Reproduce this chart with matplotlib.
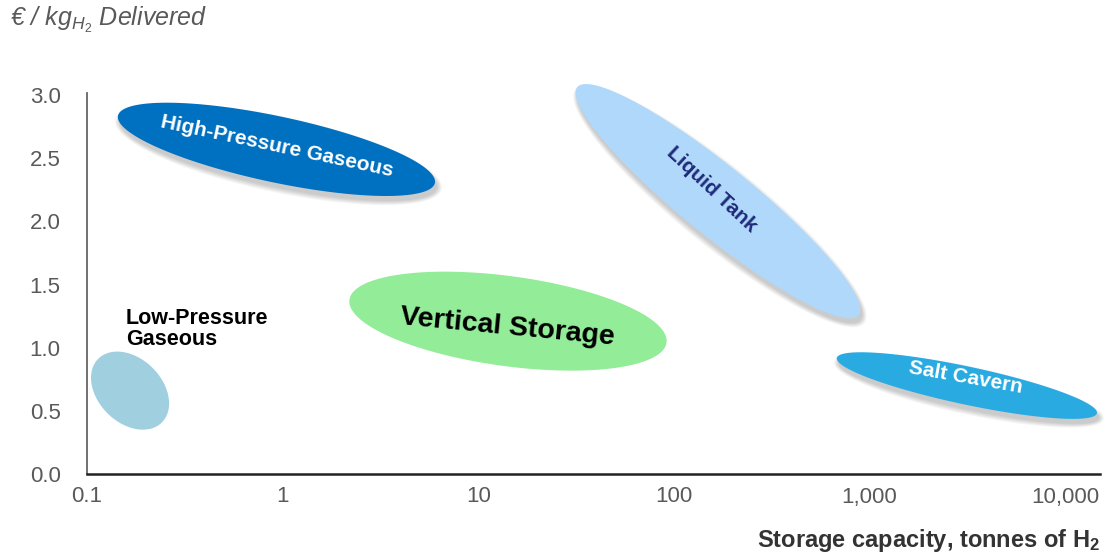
import numpy as np
import matplotlib
matplotlib.use("Agg")
import matplotlib.pyplot as plt

plt.rcParams['font.family'] = ['Liberation Sans', 'DejaVu Sans']
plt.rcParams['mathtext.fontset'] = 'custom'
plt.rcParams['mathtext.rm'] = 'Liberation Sans'
plt.rcParams['mathtext.it'] = 'Liberation Sans:italic'
plt.rcParams['mathtext.bf'] = 'Liberation Sans:bold'

# storage technologies: centre of each cloud (capacity in t H2, cost in EUR/kg)
technologies = ["Low-Pressure Gaseous", "High-Pressure Gaseous", "Vertical Storage",
                "Liquid Tank", "Salt Cavern"]
capacity_t = [0.166, 0.93, 14.2, 168, 3150]
cost_eur_kg = [0.66, 2.57, 1.21, 2.16, 0.70]

x_ticks = [0.1, 1, 10, 100, 1000, 10000]
x_tick_labels = ["0.1", "1", "10", "100", "1,000", "10,000"]
y_ticks = [0.0, 0.5, 1.0, 1.5, 2.0, 2.5, 3.0]

# drawing style per cloud: semi axes (px), tilt (deg, clockwise), colour, shadow
styles = {
    "Low-Pressure Gaseous":  dict(a=45, b=32, tilt=45, color="#a0cfe0", shadow=False),
    "High-Pressure Gaseous": dict(a=162, b=33, tilt=12, color="#0070c0", shadow=True),
    "Vertical Storage":      dict(a=160, b=45, tilt=7.7, color="#92ec98", shadow=False),
    "Liquid Tank":           dict(a=181, b=35, tilt=39, color="#b0d8fa", shadow=True),
    "Salt Cavern":           dict(a=133, b=19, tilt=12, color="#29abe2", shadow=True),
}

fig = plt.figure(figsize=(11.05, 5.53), dpi=100)
ax = fig.add_axes([87 / 1105, 1 - 474 / 553, (1100 - 87) / 1105, (474 - 93) / 553])
ax.set_xscale('log')
ax.set_xlim(0.1, 10 ** 4.179)
ax.set_ylim(0, 3.016)

for side in ['top', 'right']:
    ax.spines[side].set_visible(False)
ax.spines['left'].set_color('#666666')
ax.spines['left'].set_linewidth(1.3)
ax.spines['bottom'].set_color('#222222')
ax.spines['bottom'].set_linewidth(1.8)

ax.set_xticks(x_ticks)
ax.set_xticklabels(x_tick_labels)
ax.xaxis.set_minor_locator(matplotlib.ticker.NullLocator())
ax.set_yticks(y_ticks)
ax.set_yticklabels(["%.1f" % v for v in y_ticks])
ax.tick_params(axis='both', length=0, labelsize=16, labelcolor='#595959')
ax.tick_params(axis='y', pad=19)
ax.tick_params(axis='x', pad=9)


def ellipse_points(cx, cy, a, b, tilt, dx=0.0, dy=0.0):
    # build the ellipse in pixel space around the data centre, then map back
    t = np.linspace(0, 2 * np.pi, 200)
    th = np.radians(-tilt)
    px = a * np.cos(t) * np.cos(th) - b * np.sin(t) * np.sin(th)
    py = a * np.cos(t) * np.sin(th) + b * np.sin(t) * np.cos(th)
    c = ax.transData.transform((cx, cy))
    pts = np.column_stack([c[0] + px + dx, c[1] + py + dy])
    d = ax.transData.inverted().transform(pts)
    return d[:, 0], d[:, 1]


for name, cx, cy in zip(technologies, capacity_t, cost_eur_kg):
    st = styles[name]
    if st["shadow"]:
        for k in range(6):
            xs, ys = ellipse_points(cx, cy, st["a"] + 5 - k, st["b"] + 5 - k,
                                    st["tilt"], dx=2, dy=-5)
            ax.fill(xs, ys, color='#000000', alpha=0.035, lw=0, zorder=1, clip_on=False)
    xs, ys = ellipse_points(cx, cy, st["a"], st["b"], st["tilt"])
    ax.fill(xs, ys, color=st["color"], lw=0, zorder=2, clip_on=False)

# labels on the clouds
ax.text(capacity_t[1] * 1.01, cost_eur_kg[1] + 0.02, "High-Pressure Gaseous", color='white',
        fontsize=15, fontweight='bold', rotation=-12, ha='center', va='center',
        rotation_mode='anchor', zorder=3)
ax.text(capacity_t[3] * 0.93, cost_eur_kg[3] + 0.09, "Liquid Tank", color='#1f2a7a',
        fontsize=15, fontweight='bold', rotation=-43, ha='center', va='center',
        rotation_mode='anchor', zorder=3)
ax.text(capacity_t[2] * 0.99, cost_eur_kg[2] - 0.05, "Vertical Storage", color='black',
        fontsize=20.5, fontweight='bold', rotation=-5.5, ha='center', va='center',
        rotation_mode='anchor', zorder=3)
ax.text(capacity_t[4] * 0.99, cost_eur_kg[4] + 0.06, "Salt Cavern", color='white',
        fontsize=15, fontweight='bold', rotation=-10, ha='center', va='center',
        rotation_mode='anchor', zorder=3)
ax.text(0.158, 1.15, "Low-Pressure\nGaseous", color='black', fontsize=15.5,
        fontweight='bold', ha='left', va='center', linespacing=1.0, zorder=3)

fig.text(10 / 1105, 1 - 20 / 553, r"€ / kg$_{\mathit{H_2}}$ Delivered", color='#595959',
         fontsize=18, fontstyle='italic', ha='left', va='center')
fig.text(1100 / 1105, 1 - 540 / 553, r"Storage capacity, tonnes of H$_\mathbf{2}$",
         color='#333333', fontsize=17, fontweight='bold', ha='right', va='center')

fig.savefig("out.png", dpi=100)
